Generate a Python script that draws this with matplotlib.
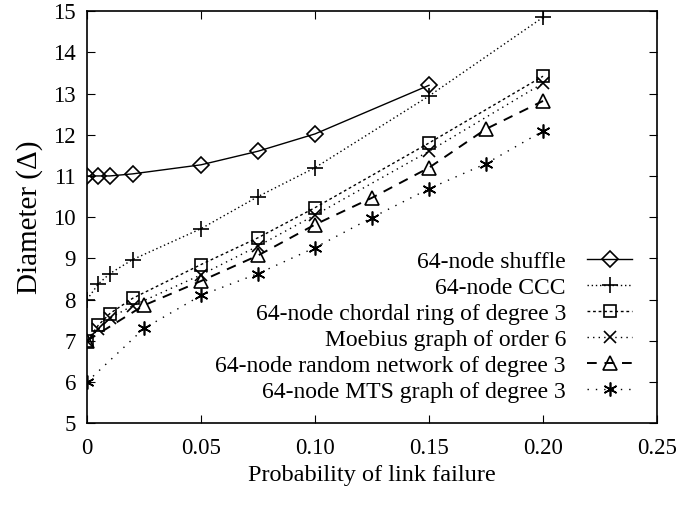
import matplotlib
matplotlib.use("Agg")
import matplotlib.pyplot as plt

x_shuffle = [0, 0.005, 0.01, 0.02, 0.05, 0.075, 0.1, 0.15]
y_shuffle = [11.0, 11.0, 11.0, 11.05, 11.27, 11.6, 12.02, 13.2]

x_ccc = [0, 0.005, 0.01, 0.02, 0.05, 0.075, 0.1, 0.15, 0.2]
y_ccc = [8.0, 8.38, 8.63, 8.97, 9.72, 10.5, 11.2, 12.94, 14.85]

x_chordal = [0, 0.005, 0.01, 0.02, 0.05, 0.075, 0.1, 0.15, 0.2]
y_chordal = [7.0, 7.38, 7.66, 8.03, 8.85, 9.5, 10.23, 11.8, 13.42]

x_moebius = [0, 0.005, 0.01, 0.02, 0.05, 0.075, 0.1, 0.15, 0.2]
y_moebius = [7.0, 7.28, 7.55, 7.85, 8.6, 9.3, 10.05, 11.6, 13.25]

x_random = [0, 0.025, 0.05, 0.075, 0.1, 0.125, 0.15, 0.175, 0.2]
y_random = [7.0, 7.86, 8.45, 9.07, 9.82, 10.47, 11.2, 12.14, 12.82]

x_mts = [0, 0.025, 0.05, 0.075, 0.1, 0.125, 0.15, 0.175, 0.2]
y_mts = [6.0, 7.3, 8.1, 8.63, 9.26, 9.99, 10.69, 11.3, 12.09]

labels = ["64-node shuffle", "64-node CCC", "64-node chordal ring of degree 3",
          "Moebius graph of order 6", "64-node random network of degree 3",
          "64-node MTS graph of degree 3"]
xticks = [0, 0.05, 0.10, 0.15, 0.20, 0.25]
xticklabels = ["0", "0.05", "0.10", "0.15", "0.20", "0.25"]
yticks = list(range(5, 16))

plt.rcParams['font.family'] = ['Liberation Serif', 'DejaVu Serif']
fig = plt.figure(figsize=(6.96, 5.05), dpi=100)
ax = fig.add_axes([0.125, 0.162, 0.819, 0.816])

kw = dict(color='black', lw=1.0, mfc='none', mec='black', mew=1.2)
ax.plot(x_shuffle, y_shuffle, linestyle='-', marker='D', ms=8, label=labels[0], **kw)
ax.plot(x_ccc, y_ccc, linestyle=(0, (1, 2)), marker='+', ms=11, label=labels[1], **kw)
ax.plot(x_chordal, y_chordal, linestyle=(0, (2, 2)), marker='s', ms=8.5, label=labels[2], **kw)
ax.plot(x_moebius, y_moebius, linestyle=(0, (1, 3)), marker='x', ms=8.5, label=labels[3], **kw)
ax.plot(x_random, y_random, linestyle=(0, (5, 4)), lw=1.4, marker='^', ms=10, color='black',
        mfc='none', mec='black', mew=1.2, label=labels[4])
ax.plot(x_mts, y_mts, linestyle=(0, (1, 5)), marker=(6, 2, 0), ms=10, label=labels[5], **kw)

ax.set_xlim(0, 0.25)
ax.set_ylim(5, 15)
ax.set_xticks(xticks)
ax.set_xticklabels(xticklabels)
ax.set_yticks(yticks)
ax.tick_params(direction='in', top=True, right=True, length=6, labelsize=16.5)
ax.tick_params(axis='x', pad=11)
ax.tick_params(axis='y', pad=8)
for s in ax.spines.values():
    s.set_linewidth(1.2)
ax.set_xlabel("Probability of link failure", fontsize=17.5, labelpad=4)
ax.set_ylabel("Diameter (\u0394)", fontsize=21, labelpad=7)

leg = ax.legend(loc='lower right', frameon=False, markerfirst=False, fontsize=17,
                handlelength=1.9, labelspacing=0.19, handletextpad=0.9,
                borderpad=0.0, bbox_to_anchor=(0.977, 0.021))
for t in leg.get_texts():
    t.set_ha('right')

fig.savefig("out.png", dpi=100)
